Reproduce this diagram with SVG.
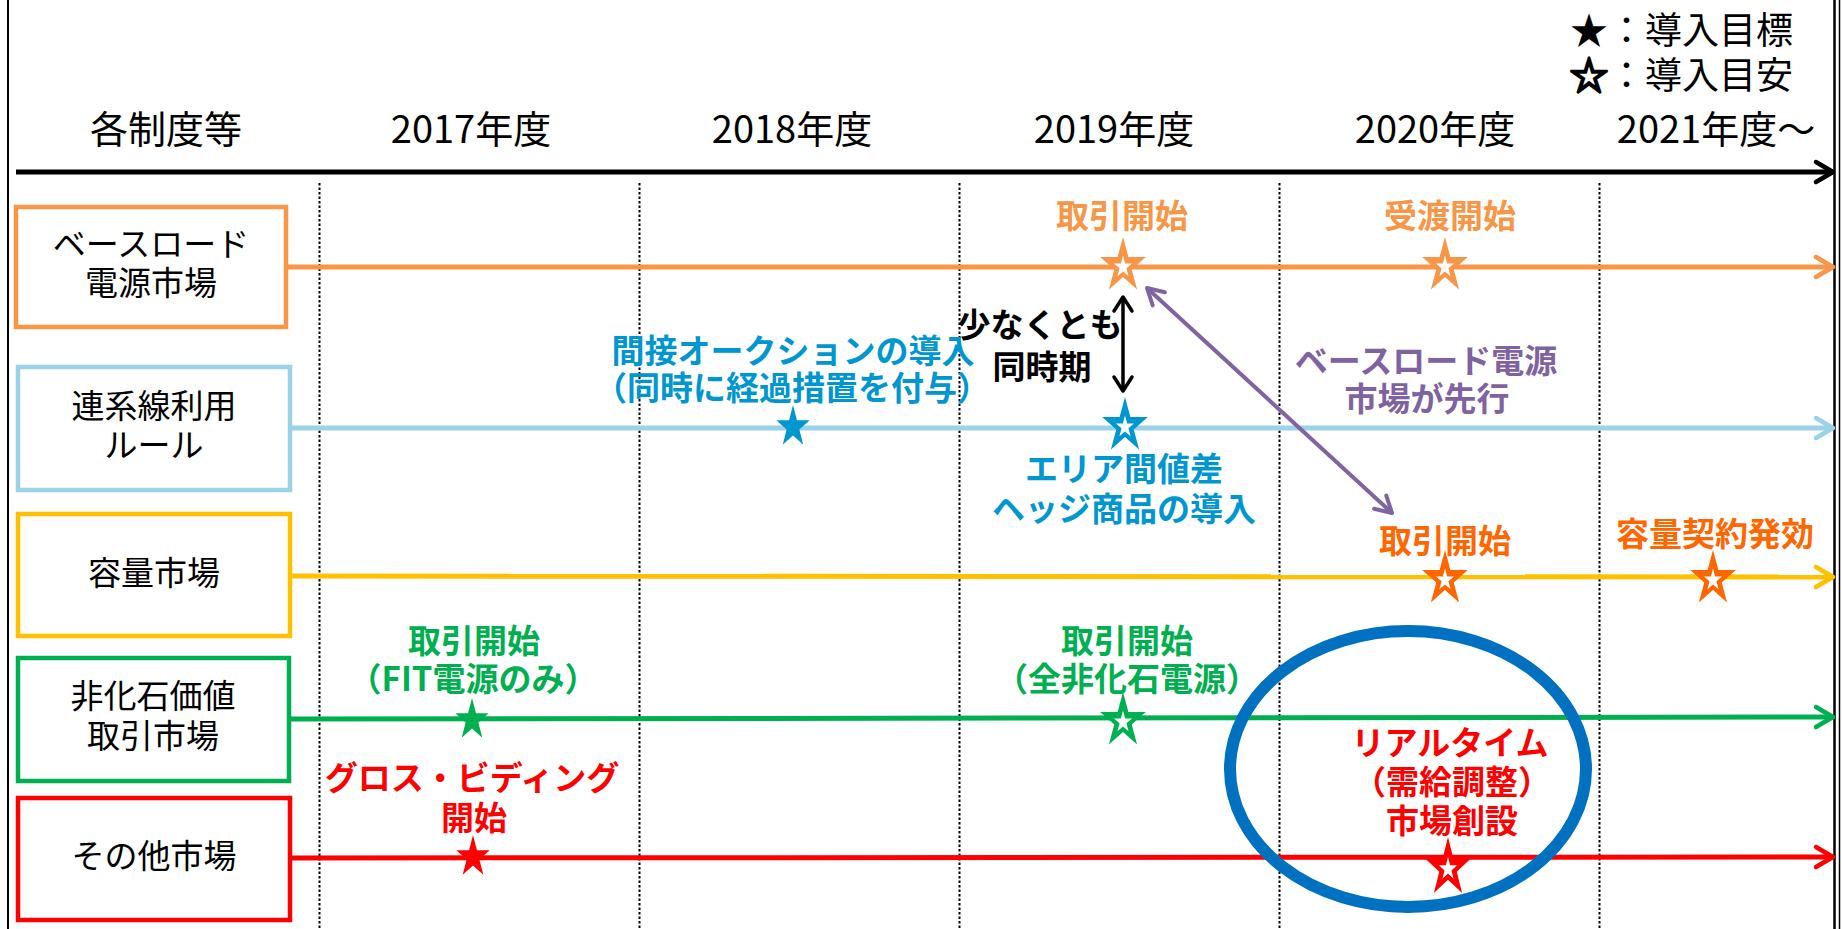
<svg xmlns="http://www.w3.org/2000/svg" xmlns:xlink="http://www.w3.org/1999/xlink" width="1842" height="929" viewBox="0 0 1842 929">
<style>
  text { font-family: "Noto Sans CJK JP", "Noto Sans", sans-serif; }
  .yr { font-size: 38px; fill: #000; text-anchor: middle; }
  .box { fill: #fff; stroke-width: 4.5; }
  .bt { font-size: 33px; fill: #000; text-anchor: middle; }
  .lb { font-size: 33px; font-weight: bold; text-anchor: middle; }
  .grid { stroke: #000; stroke-width: 2; stroke-dasharray: 2.5 2; }
  .tl { stroke-width: 5; fill: none; }
  .leg { font-size: 37px; fill: #000; }
</style>
<defs>
  <path id="star" d="M0,-100 L22.45,-30.9 L95.11,-30.9 L36.33,11.8 L58.78,80.9 L0,38.2 L-58.78,80.9 L-36.33,11.8 L-95.11,-30.9 L-22.45,-30.9 Z"/>
  <marker id="aBlack" markerUnits="userSpaceOnUse" viewBox="-26 -16 32 32" markerWidth="32" markerHeight="32" refX="0" refY="0" orient="auto-start-reverse" overflow="visible">
    <path d="M-17,-10 L0,0 L-17,10" fill="none" stroke="#000" stroke-width="4.5" stroke-linecap="round" stroke-linejoin="round"/>
  </marker>
  <marker id="aSmallBlack" markerUnits="userSpaceOnUse" viewBox="-26 -16 32 32" markerWidth="32" markerHeight="32" refX="0" refY="0" orient="auto-start-reverse" overflow="visible">
    <path d="M-14,-9 L0,0 L-14,9" fill="none" stroke="#000" stroke-width="3.5" stroke-linecap="round" stroke-linejoin="round"/>
  </marker>
  <marker id="aPurple" markerUnits="userSpaceOnUse" viewBox="-26 -16 32 32" markerWidth="32" markerHeight="32" refX="0" refY="0" orient="auto-start-reverse" overflow="visible">
    <path d="M-16,-9 L0,0 L-16,9" fill="none" stroke="#8064A2" stroke-width="4" stroke-linecap="round" stroke-linejoin="round"/>
  </marker>
  <marker id="aOrange" markerUnits="userSpaceOnUse" viewBox="-26 -16 32 32" markerWidth="32" markerHeight="32" refX="0" refY="0" orient="auto" overflow="visible">
    <path d="M-17,-10 L0,0 L-17,10" fill="none" stroke="#F79646" stroke-width="4.5" stroke-linecap="round" stroke-linejoin="round"/>
  </marker>
  <marker id="aBlue" markerUnits="userSpaceOnUse" viewBox="-26 -16 32 32" markerWidth="32" markerHeight="32" refX="0" refY="0" orient="auto" overflow="visible">
    <path d="M-17,-10 L0,0 L-17,10" fill="none" stroke="#9AD3E8" stroke-width="4.5" stroke-linecap="round" stroke-linejoin="round"/>
  </marker>
  <marker id="aYellow" markerUnits="userSpaceOnUse" viewBox="-26 -16 32 32" markerWidth="32" markerHeight="32" refX="0" refY="0" orient="auto" overflow="visible">
    <path d="M-17,-10 L0,0 L-17,10" fill="none" stroke="#FFC000" stroke-width="4.5" stroke-linecap="round" stroke-linejoin="round"/>
  </marker>
  <marker id="aGreen" markerUnits="userSpaceOnUse" viewBox="-26 -16 32 32" markerWidth="32" markerHeight="32" refX="0" refY="0" orient="auto" overflow="visible">
    <path d="M-17,-10 L0,0 L-17,10" fill="none" stroke="#00B050" stroke-width="4.5" stroke-linecap="round" stroke-linejoin="round"/>
  </marker>
  <marker id="aRed" markerUnits="userSpaceOnUse" viewBox="-26 -16 32 32" markerWidth="32" markerHeight="32" refX="0" refY="0" orient="auto" overflow="visible">
    <path d="M-17,-10 L0,0 L-17,10" fill="none" stroke="#FF0000" stroke-width="4.5" stroke-linecap="round" stroke-linejoin="round"/>
  </marker>
</defs>

<rect x="0" y="0" width="1842" height="929" fill="#fff"/>

<!-- frame -->
<g id="frame" stroke="#000" fill="none">
  <line x1="8" y1="0" x2="8" y2="929" stroke-width="2"/>
  <line x1="1834.5" y1="0" x2="1834.5" y2="929" stroke-width="2.5"/>
  <line x1="1839.5" y1="0" x2="1839.5" y2="929" stroke-width="1.5"/>
</g>

<!-- legend -->
<g id="legend">
  <text class="leg"><tspan x="1570" y="44" font-size="38">★</tspan><tspan>：導入目標</tspan><tspan x="1570" y="89" font-size="38" stroke="#000" stroke-width="2.5">☆</tspan><tspan>：導入目安</tspan></text>
</g>

<!-- header -->
<g id="header">
  <text class="yr" x="166" y="143">各制度等</text>
  <text class="yr" x="471" y="143">2017年度</text>
  <text class="yr" x="792" y="143">2018年度</text>
  <text class="yr" x="1114" y="143">2019年度</text>
  <text class="yr" x="1435" y="143">2020年度</text>
  <text class="yr" x="1716" y="143">2021年度～</text>
</g>

<!-- grid -->
<g id="grid">
  <line class="grid" x1="319.5" y1="183" x2="319.5" y2="929"/>
  <line class="grid" x1="639.5" y1="183" x2="639.5" y2="929"/>
  <line class="grid" x1="959.5" y1="183" x2="959.5" y2="929"/>
  <line class="grid" x1="1279.5" y1="183" x2="1279.5" y2="929"/>
  <line class="grid" x1="1599.5" y1="183" x2="1599.5" y2="929"/>
</g>

<!-- connectors -->
<g id="connectors">
  <line x1="16" y1="172" x2="1833" y2="172" stroke="#000" stroke-width="5" marker-end="url(#aBlack)"/>
  <line class="tl" x1="288" y1="267" x2="1833" y2="267" stroke="#F79646" marker-end="url(#aOrange)"/>
  <line class="tl" x1="290" y1="428" x2="1833" y2="428" stroke="#9AD3E8" marker-end="url(#aBlue)"/>
  <line class="tl" x1="290" y1="576" x2="1833" y2="577" stroke="#FFC000" marker-end="url(#aYellow)"/>
  <line class="tl" x1="289" y1="719" x2="1833" y2="717" stroke="#00B050" marker-end="url(#aGreen)"/>
  <line class="tl" x1="290" y1="858" x2="1833" y2="857" stroke="#FF0000" marker-end="url(#aRed)"/>
  <line x1="1123" y1="297" x2="1123" y2="391" stroke="#000" stroke-width="3.5" marker-start="url(#aSmallBlack)" marker-end="url(#aSmallBlack)"/>
  <line x1="1147" y1="288" x2="1392" y2="513" stroke="#8064A2" stroke-width="4" marker-start="url(#aPurple)" marker-end="url(#aPurple)"/>
</g>

<!-- row nodes -->
<g id="node-baseload">
  <rect class="box" x="16" y="207" width="270" height="120" stroke="#F79646"/>
  <text class="bt"><tspan x="151" y="256">ベースロード</tspan><tspan x="151" y="295">電源市場</tspan></text>
</g>
<g id="node-interconnect">
  <rect class="box" x="18" y="367" width="272" height="123" stroke="#9AD3E8"/>
  <text class="bt"><tspan x="154" y="418">連系線利用</tspan><tspan x="154" y="457">ルール</tspan></text>
</g>
<g id="node-capacity">
  <rect class="box" x="18" y="514" width="272" height="122" stroke="#FFC000"/>
  <text class="bt" x="154" y="585">容量市場</text>
</g>
<g id="node-nonfossil">
  <rect class="box" x="18" y="658" width="271" height="123" stroke="#00B050"/>
  <text class="bt"><tspan x="153" y="708">非化石価値</tspan><tspan x="153" y="748">取引市場</tspan></text>
</g>
<g id="node-other">
  <rect class="box" x="18" y="798" width="272" height="122" stroke="#FF0000"/>
  <text class="bt" x="154" y="868">その他市場</text>
</g>

<!-- baseload milestones -->
<g id="m-baseload-2019">
  <use xlink:href="#star" href="#star" fill="#F79646" transform="translate(1123,266) scale(0.24,0.29)"/>
  <use xlink:href="#star" href="#star" fill="#fff" transform="translate(1123,267) scale(0.095,0.115)"/>
  <text class="lb" x="1122" y="228" fill="#F79646">取引開始</text>
</g>
<g id="m-baseload-2020">
  <use xlink:href="#star" href="#star" fill="#F79646" transform="translate(1445,266) scale(0.24,0.29)"/>
  <use xlink:href="#star" href="#star" fill="#fff" transform="translate(1445,267) scale(0.095,0.115)"/>
  <text class="lb" x="1450" y="228" fill="#F79646">受渡開始</text>
</g>

<!-- interconnect milestones -->
<g id="m-interconnect-2018">
  <use xlink:href="#star" href="#star" fill="#0096D0" transform="translate(793,427) scale(0.175,0.22)"/>
  <text class="lb" fill="#0096D0"><tspan x="793" y="363">間接オークションの導入</tspan><tspan x="792" y="400">（同時に経過措置を付与）</tspan></text>
</g>
<g id="m-interconnect-2019">
  <use xlink:href="#star" href="#star" fill="#0096D0" transform="translate(1125,426) scale(0.24,0.29)"/>
  <use xlink:href="#star" href="#star" fill="#fff" transform="translate(1125,427) scale(0.095,0.115)"/>
  <text class="lb" fill="#0096D0"><tspan x="1124" y="481">エリア間値差</tspan><tspan x="1124" y="521">ヘッジ商品の導入</tspan></text>
</g>
<g id="note-same-time">
  <text class="lb" fill="#000"><tspan x="1040" y="337">少なくとも</tspan><tspan x="1042" y="379">同時期</tspan></text>
</g>
<g id="note-baseload-first">
  <text class="lb" fill="#7F63A1"><tspan x="1426" y="373">ベースロード電源</tspan><tspan x="1427" y="411">市場が先行</tspan></text>
</g>

<!-- capacity milestones -->
<g id="m-capacity-2020">
  <use xlink:href="#star" href="#star" fill="#FF6600" transform="translate(1445,579) scale(0.24,0.29)"/>
  <use xlink:href="#star" href="#star" fill="#fff" transform="translate(1445,580) scale(0.095,0.115)"/>
  <text class="lb" x="1445" y="553" fill="#FF6600">取引開始</text>
</g>
<g id="m-capacity-2021">
  <use xlink:href="#star" href="#star" fill="#FF6600" transform="translate(1713,579) scale(0.24,0.29)"/>
  <use xlink:href="#star" href="#star" fill="#fff" transform="translate(1713,580) scale(0.095,0.115)"/>
  <text class="lb" x="1715" y="546" fill="#FF6600">容量契約発効</text>
</g>

<!-- non-fossil milestones -->
<g id="m-nonfossil-2017">
  <use xlink:href="#star" href="#star" fill="#00B050" transform="translate(472,720) scale(0.175,0.22)"/>
  <text class="lb" fill="#00B050"><tspan x="474" y="653">取引開始</tspan><tspan x="473" y="691">（FIT電源のみ）</tspan></text>
</g>
<g id="m-nonfossil-2019">
  <use xlink:href="#star" href="#star" fill="#00B050" transform="translate(1123,721) scale(0.24,0.29)"/>
  <use xlink:href="#star" href="#star" fill="#fff" transform="translate(1123,722) scale(0.095,0.115)"/>
  <text class="lb" fill="#00B050"><tspan x="1127" y="653">取引開始</tspan><tspan x="1127" y="691">（全非化石電源）</tspan></text>
</g>

<!-- other market milestones -->
<g id="m-other-2017">
  <use xlink:href="#star" href="#star" fill="#FF0000" transform="translate(473,857) scale(0.175,0.22)"/>
  <text class="lb" fill="#FF0000"><tspan x="472" y="790">グロス・ビディング</tspan><tspan x="474" y="830">開始</tspan></text>
</g>
<g id="m-other-2020">
  <use xlink:href="#star" href="#star" fill="#FF0000" transform="translate(1448,868) scale(0.24,0.31)"/>
  <use xlink:href="#star" href="#star" fill="#fff" transform="translate(1448,869) scale(0.095,0.12)"/>
  <text class="lb" fill="#FF0000"><tspan x="1450" y="755">リアルタイム</tspan><tspan x="1452" y="794">（需給調整）</tspan><tspan x="1452" y="833">市場創設</tspan></text>
</g>

<!-- highlight ellipse -->
<g id="highlight">
  <ellipse cx="1408" cy="769" rx="178" ry="138" fill="none" stroke="#0070C0" stroke-width="12"/>
</g>
</svg>
